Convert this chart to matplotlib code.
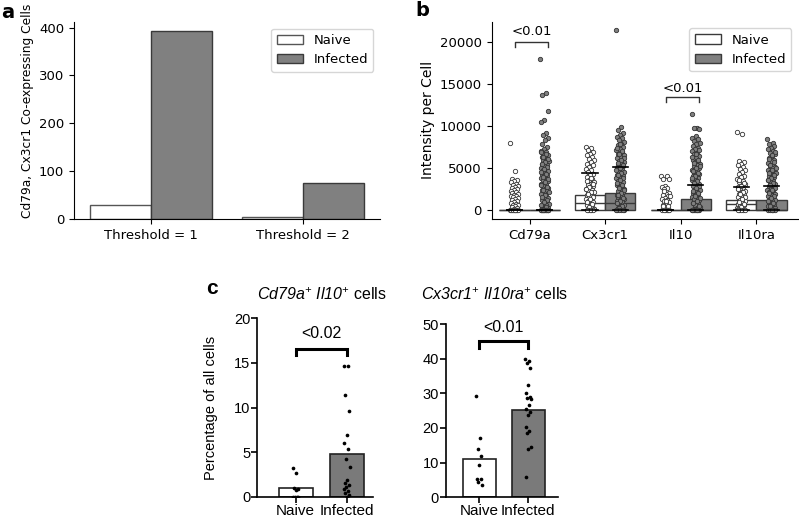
import numpy as np
import matplotlib
matplotlib.use("Agg")
import matplotlib.pyplot as plt
from matplotlib.patches import Patch

# ---------------- data ----------------
# panel a
thresholds = ["Threshold = 1", "Threshold = 2"]
coexp_naive = [30, 4]
coexp_infected = [392, 76]

# panel b
genes = ["Cd79a", "Cx3cr1", "Il10", "Il10ra"]
cd79a_naive = [7970, 4690, 3700, 3560, 3420, 3290, 3150, 3010, 2890, 2760, 2640, 2510, 2390,
               2280, 2170, 2050, 1940, 1830, 1720, 1610, 1500, 1400, 1290, 1180, 1080, 970,
               860, 760, 650, 550, 440, 340, 230, 120, 0, 0, 0, 0, 0, 0, 0, 0, 0, 0]
cd79a_infected = [17900, 13900, 13700, 11800, 10700, 10400, 9200, 8900, 8500, 8300, 7900,
                  7500, 7200, 7000, 6850, 6700, 6560, 6400, 6260, 6100, 5950, 5810, 5650,
                  5500, 5360, 5210, 5050, 4900, 4760, 4600, 4450, 4310, 4150, 4000, 3860,
                  3700, 3560, 3400, 3250, 3110, 2950, 2800, 2660, 2500, 2350, 2210, 2050,
                  1900, 1760, 1600, 1450, 1310, 1150, 1000, 860, 700, 550, 410, 250, 100,
                  6930, 6620, 6330, 6050, 5720, 5430, 5130, 4830, 4520, 4230, 3930, 3630,
                  3330, 3030, 2730, 2430, 2130, 1830, 1530, 1230, 930, 630, 330,
                  0, 0, 0, 0, 0, 0, 0, 0, 0, 0, 0, 0, 0, 0, 0]
cx3cr1_naive = [7500, 7310, 7090, 6900, 6710, 6500, 6290, 6110, 5900, 5700, 5510, 5290, 5100,
                4910, 4700, 4500, 4290, 4110, 3900, 3700, 3510, 3300, 3150, 3000, 2860, 2700,
                2550, 2400, 2260, 2100, 1950, 1800, 1660, 1500, 1350, 1200, 1060, 900, 750,
                600, 460, 300, 150, 3820, 3420, 3080, 2780, 2480, 2180, 1880, 1580, 1280,
                980, 680, 380, 80, 0, 0, 0, 0, 0]
cx3cr1_infected = [21340, 9900, 9500, 9200, 8900, 8700, 8500, 8310, 8100, 7900, 7710, 7500,
                   7300, 7110, 6900, 6700, 6510, 6300, 6150, 6000, 5850, 5700, 5560, 5400,
                   5250, 5100, 4950, 4800, 4660, 4500, 4350, 4200, 4050, 3900, 3760, 3600,
                   3450, 3300, 3150, 3000, 2860, 2700, 2550, 2400, 2250, 2100, 1960, 1800,
                   1650, 1500, 1350, 1200, 1060, 900, 750, 600, 450, 300, 150, 7820, 7420,
                   7020, 6620, 6230, 5930, 5630, 5330, 5030, 4730, 4430, 4130, 3830, 3530,
                   3230, 2930, 2630, 2330, 2030, 1730, 1430, 1130, 830, 530, 230,
                   0, 0, 0, 0, 0, 0]
il10_naive = [4020, 4000, 3710, 3700, 2900, 2750, 2600, 2450, 2050, 1900, 1760, 1620, 1480,
              1350, 1200, 1060, 920, 780, 640, 470, 2300, 1700, 1100, 500, 0, 0, 0, 0, 0, 0]
il10_infected = [11400, 9800, 9700, 9600, 8760, 8600, 8400, 8200, 8000, 7800, 7600, 7400,
                 7200, 7000, 6800, 6600, 6400, 6200, 6000, 5800, 5650, 5500, 5350, 5200,
                 5050, 4900, 4750, 4600, 4450, 4300, 4150, 4000, 3850, 3700, 3550, 3400,
                 3250, 3100, 2950, 2800, 2650, 2500, 2350, 2200, 2050, 1900, 1750, 1600,
                 1450, 1300, 1150, 1000, 850, 700, 550, 400, 250, 100, 7100, 6700, 6300,
                 5900, 5580, 5280, 4980, 4680, 4380, 4080, 3780, 3480, 3180, 2880, 2580,
                 2280, 1980, 1680, 1380, 1080, 780, 480, 180, 0, 0, 0, 0, 0, 0, 0, 0, 0, 0]
il10ra_naive = [9270, 9030, 5880, 5700, 5500, 5300, 5110, 4900, 4700, 4510, 4300, 4100, 3900,
                3710, 3500, 3300, 3100, 2900, 2710, 2550, 2400, 2250, 2100, 1950, 1800, 1650,
                1500, 1350, 1200, 1050, 900, 750, 600, 450, 300, 150, 3600, 3200, 2820, 2480,
                2180, 1880, 1580, 1280, 980, 680, 380, 80, 0, 0, 0, 0, 0]
il10ra_infected = [8480, 7970, 7800, 7600, 7400, 7200, 7000, 6800, 6600, 6400, 6200, 6000,
                   5800, 5600, 5400, 5250, 5100, 4950, 4800, 4650, 4500, 4350, 4200, 4050,
                   3900, 3750, 3600, 3450, 3300, 3150, 3000, 2850, 2700, 2550, 2400, 2250,
                   2100, 1950, 1800, 1650, 1500, 1350, 1200, 1050, 900, 750, 600, 450, 300,
                   150, 6900, 6500, 6100, 5700, 5320, 5020, 4720, 4420, 4120, 3820, 3520,
                   3220, 2920, 2620, 2320, 2020, 1720, 1420, 1120, 820, 520, 220,
                   0, 0, 0, 0, 0, 0]

# box summaries (naive, infected) per gene
box_q1 = [0, 0, 0, 0, 0, 0, 0, 0]
box_med = [0, 0, 790, 790, 0, 0, 670, 0]
box_q3 = [0, 0, 1775, 2050, 0, 1280, 1140, 1140]
box_whishi = [0, 0, 4340, 5130, 0, 3000, 2760, 2840]

# panel c
groups_c = ["Naive", "Infected"]
cd79a_il10_mean = [0.93, 4.82]
cd79a_il10_naive = [3.25, 2.65, 1.0, 0.9, 0.75, 0.0, 0.0, 0.0, 0.0]
cd79a_il10_infected = [14.7, 14.6, 11.44, 9.6, 6.88, 5.98, 5.31, 4.26, 3.29, 1.87, 1.57,
                       1.35, 1.08, 0.82, 0.64, 0.45, 0.22, 0.0]
cx3cr1_il10ra_mean = [11.0, 25.1]
cx3cr1_il10ra_naive = [29.1, 17.0, 14.0, 11.9, 9.3, 5.4, 5.2, 4.5, 3.6]
cx3cr1_il10ra_infected = [39.9, 39.3, 38.75, 37.2, 32.4, 30.1, 28.9, 28.6, 28.3, 26.6, 25.4,
                          24.6, 23.7, 20.2, 19.1, 18.65, 14.6, 14.0, 5.8]

W, H = 799, 518
fig = plt.figure(figsize=(W / 100, H / 100), dpi=100)

def axes_px(left, top, right, bottom):
    return fig.add_axes([left / W, 1 - bottom / H, (right - left) / W, (bottom - top) / H])

edge = "#3a3a3a"
grey = "#808080"

# ---------------- panel a ----------------
ax = axes_px(74, 22, 380, 219.3)
x = np.arange(len(thresholds))
ax.bar(x - 0.2, coexp_naive, 0.4, color="white", edgecolor="#555555", lw=1, label="Naive")
ax.bar(x + 0.2, coexp_infected, 0.4, color=grey, edgecolor=edge, lw=1, label="Infected")
ax.set_xlim(-0.505, 1.505)
ax.set_xticks(x)
ax.set_xticklabels(thresholds, fontsize=9.5)
ax.set_yticks([0, 100, 200, 300, 400])
ax.tick_params(labelsize=9.5)
ax.set_ylabel("Cd79a, Cx3cr1 Co-expressing Cells", fontsize=8.8)
ax.yaxis.set_label_coords(-0.13, 0.55)
for s in ["top", "right"]:
    ax.spines[s].set_visible(False)
ax.legend(loc="upper right", fontsize=9.5, bbox_to_anchor=(1.0, 1.0))

# ---------------- panel b ----------------
ax = axes_px(491.7, 21.7, 798, 219)
points = [cd79a_naive, cd79a_infected, cx3cr1_naive, cx3cr1_infected,
          il10_naive, il10_infected, il10ra_naive, il10ra_infected]
positions = []
stats = []
for i in range(len(genes)):
    for j, off in enumerate([-0.2, 0.2]):
        k = 2 * i + j
        positions.append(i + off)
        stats.append(dict(med=box_med[k], q1=box_q1[k], q3=box_q3[k],
                          whislo=box_q1[k], whishi=box_whishi[k], fliers=[]))
bp = ax.bxp(stats, positions=positions, widths=0.4, capwidths=0.2, patch_artist=True,
            showfliers=False, manage_ticks=False)
for k, box in enumerate(bp["boxes"]):
    box.set_facecolor("white" if k % 2 == 0 else grey)
    box.set_edgecolor(edge)
    box.set_linewidth(1)
for ln in bp["medians"]:
    ln.set_color(edge)
    ln.set_linewidth(1)
for ln in bp["whiskers"]:
    ln.set_color(edge)
    ln.set_linewidth(1)
for ln in bp["caps"]:
    ln.set_color("black")
    ln.set_linewidth(1.2)
    ln.set_zorder(5)

for k, vals in enumerate(points):
    n = len(vals)
    jit = ((np.arange(n) * 0.6180339) % 1 - 0.5) * 0.11
    ax.scatter(positions[k] + jit, vals, s=10, marker="o",
               facecolor="white" if k % 2 == 0 else grey,
               edgecolor="#333333", linewidth=0.6, zorder=4)

# significance brackets
for gi, ytop, ytxt in [(0, 20000, 21150), (2, 13370, 14480)]:
    ax.plot([gi - 0.19, gi - 0.19, gi + 0.24, gi + 0.24],
            [ytop - 600, ytop, ytop, ytop - 600], color="#333333", lw=1)
    ax.text(gi + 0.025, ytxt, "<0.01", ha="center", va="center", fontsize=9.5)

ax.set_xlim(-0.5, 3.55)
ax.set_ylim(-1065, 22365)
ax.set_xticks(range(len(genes)))
ax.set_xticklabels(genes)
ax.set_yticks([0, 5000, 10000, 15000, 20000])
ax.tick_params(labelsize=9.5)
ax.set_ylabel("Intensity per Cell", fontsize=10)
ax.yaxis.set_label_coords(-0.185, 0.5)
for s in ["top", "right"]:
    ax.spines[s].set_visible(False)
ax.legend(handles=[Patch(facecolor="white", edgecolor=edge, label="Naive"),
                   Patch(facecolor=grey, edgecolor=edge, label="Infected")],
          loc="upper right", fontsize=9.5, bbox_to_anchor=(1.0, 1.0))

# ---------------- panel c ----------------
plt.rcParams["mathtext.fontset"] = "custom"
plt.rcParams["mathtext.rm"] = "Liberation Sans:italic"
plt.rcParams["mathtext.it"] = "Liberation Sans:italic"
arial = "Liberation Sans"
cgrey = "#7a7a7a"

def panel_c(ax, means, naive, infected, ylim, yticks, br, txt, label):
    ax.bar([0, 1], means, 0.67, color=["white", cgrey], edgecolor="#222222", lw=1.2)
    for xi, vals in [(0, naive), (1, infected)]:
        n = len(vals)
        jit = ((np.arange(n) * 0.6180339) % 1 - 0.5) * 0.12
        ax.scatter(xi + jit, vals, s=7, color="black", zorder=4, linewidth=0)
    y0, y1 = br
    ax.plot([0, 0, 1, 1], [y0, y1, y1, y0], color="black", lw=2.2,
            solid_joinstyle="miter")
    ax.text(0.5, txt, label, ha="center", va="center", fontsize=11.5, family=arial)
    ax.set_ylim(*ylim)
    ax.set_yticks(yticks)
    ax.set_xticks([0, 1])
    ax.set_xticklabels(groups_c, fontsize=11, family=arial)
    for t in ax.get_yticklabels():
        t.set_family(arial)
        t.set_fontsize(10.5)
    for s in ["top", "right"]:
        ax.spines[s].set_visible(False)
    for s in ["left", "bottom"]:
        ax.spines[s].set_linewidth(1.2)
    ax.tick_params(width=1.2, length=4, pad=1)

ax = axes_px(257.3, 318.3, 372.5, 496.7)
ax.set_xlim(-0.75, 1.5)
panel_c(ax, cd79a_il10_mean, cd79a_il10_naive, cd79a_il10_infected, (0, 20),
        [0, 5, 10, 15, 20], (15.9, 16.6), 18.3, "<0.02")
ax.set_ylabel("Percentage of all cells", fontsize=10.5, family=arial)
ax.yaxis.set_label_coords(-0.34, 0.5)

ax = axes_px(446, 324, 557.7, 497.3)
ax.set_xlim(-0.68, 1.6)
panel_c(ax, cx3cr1_il10ra_mean, cx3cr1_il10ra_naive, cx3cr1_il10ra_infected, (0, 50),
        [0, 10, 20, 30, 40, 50], (43.0, 45.2), 48.9, "<0.01")

fig.text(322 / W, 1 - 295 / H, r"$\mathrm{Cd79a}^{+}$ $\mathrm{Il10}^{+}$ cells",
         ha="center", va="center", fontsize=11.5, family=arial)
fig.text(495 / W, 1 - 295 / H, r"$\mathrm{Cx3cr1}^{+}$ $\mathrm{Il10ra}^{+}$ cells",
         ha="center", va="center", fontsize=11.5, family=arial)

# panel letters
fig.text(0.001, 1 - 3 / H, "a", fontsize=14, fontweight="bold", va="top")
fig.text(415 / W, 1 - 1 / H, "b", fontsize=14, fontweight="bold", va="top")
fig.text(206 / W, 1 - 279 / H, "c", fontsize=15, fontweight="bold", va="top", family=arial)

fig.savefig("out.png", dpi=100)
